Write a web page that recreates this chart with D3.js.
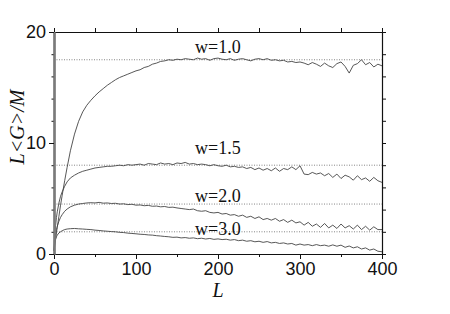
<!DOCTYPE html>
<html>
<head>
<meta charset="utf-8">
<script src="https://cdn.jsdelivr.net/npm/d3@7"></script>
<style>
  body { margin: 0; background: #fff; }
  svg { display: block; }
</style>
</head>
<body>
<div id="chart"></div>
<script>
// sampled lengths L shared by all four curves
const lengths = [0, 1, 2, 3, 4, 6, 8, 10, 13, 16, 20,
  25, 30, 35, 40, 45, 50, 55, 60, 65, 70, 75, 80, 85, 90, 95, 100,
  105, 110, 115, 120, 125, 130, 135, 140, 145, 150, 155, 160, 165, 170, 175, 180,
  185, 190, 195, 200, 205, 210, 215, 220, 225, 230, 235, 240, 245, 250, 255, 260,
  265, 270, 275, 280, 285, 290, 295, 300, 305, 310, 315, 320, 325, 330, 335, 340,
  345, 350, 355, 360, 365, 370, 375, 380, 385, 390, 395, 400];

const w10 = [0.3, 0.8, 1.35, 1.9, 2.4, 3.4, 4.4, 5.3, 6.6, 7.8, 9.3,
  10.8, 11.95, 12.8, 13.4, 13.85, 14.25, 14.6, 14.9, 15.2, 15.45, 15.7, 15.9, 16.05, 16.2, 16.35, 16.5,
  16.6, 16.8, 16.9, 17.1, 17.2, 17.35, 17.4, 17.5, 17.45, 17.55, 17.5, 17.6, 17.55, 17.5, 17.65, 17.55,
  17.6, 17.45, 17.6, 17.65, 17.55, 17.5, 17.6, 17.45, 17.55, 17.6, 17.5, 17.4, 17.55, 17.6, 17.5, 17.6,
  17.45, 17.5, 17.4, 17.45, 17.3, 17.35, 17.25, 17.3, 17.2, 17.05, 17.25, 17.1, 16.9, 17.2, 16.95, 16.8,
  17.15, 17.3, 16.9, 16.3, 17.0, 17.15, 17.5, 17.05, 17.25, 16.85, 17.1, 16.95];

const w15 = [0.3, 1.8, 2.6, 3.3, 3.8, 4.6, 5.2, 5.6, 6.1, 6.5, 6.85,
  7.1, 7.3, 7.45, 7.55, 7.65, 7.75, 7.8, 7.85, 7.9, 7.9, 7.95, 8.0, 7.95, 8.05, 8.0, 8.05,
  8.1, 8.0, 8.15, 8.1, 8.05, 8.2, 8.1, 8.15, 8.05, 8.2, 8.15, 8.25, 8.1, 8.15, 8.05, 8.1,
  8.05, 7.95, 8.05, 7.95, 7.9, 8.0, 7.85, 7.9, 7.8, 7.85, 7.7, 7.8, 7.6, 7.75, 7.55, 7.7,
  7.5, 7.75, 7.45, 7.7, 7.6, 7.85, 7.6, 7.95, 7.2, 7.15, 7.35, 7.2, 7.3, 7.05, 7.25, 6.9,
  7.2, 6.8, 7.1, 6.95, 6.65, 7.05, 6.7, 6.85, 6.55, 6.9, 6.6, 6.45];

const w20 = [0.3, 1.3, 1.8, 2.2, 2.5, 2.95, 3.3, 3.55, 3.85, 4.05, 4.25,
  4.4, 4.5, 4.55, 4.6, 4.62, 4.6, 4.65, 4.58, 4.6, 4.55, 4.57, 4.5, 4.52, 4.45, 4.48, 4.4,
  4.42, 4.35, 4.38, 4.3, 4.32, 4.25, 4.28, 4.2, 4.22, 4.15, 4.1, 4.05, 4.0, 4.05, 3.9, 3.85,
  3.9, 3.75, 3.7, 3.75, 3.6, 3.65, 3.5, 3.55, 3.4, 3.5, 3.3, 3.4, 3.2, 3.35, 3.1, 3.2,
  3.05, 3.2, 2.95, 3.1, 2.85, 3.05, 2.8, 2.9, 2.6, 2.85, 2.5, 2.7, 2.4, 2.75, 2.35, 2.6,
  2.3, 2.7, 2.35, 2.55, 2.25, 2.6, 2.2, 2.5, 2.15, 2.45, 2.2, 2.2];

const w30 = [0.3, 1.0, 1.35, 1.55, 1.7, 1.9, 2.0, 2.1, 2.2, 2.25, 2.28,
  2.3, 2.27, 2.25, 2.22, 2.2, 2.15, 2.12, 2.08, 2.05, 2.02, 2.0, 1.95, 1.93, 1.88, 1.85, 1.82,
  1.78, 1.76, 1.72, 1.7, 1.65, 1.62, 1.58, 1.55, 1.5, 1.52, 1.45, 1.48, 1.42, 1.45, 1.38, 1.42,
  1.35, 1.4, 1.32, 1.36, 1.3, 1.33, 1.25, 1.3, 1.2, 1.25, 1.15, 1.2, 1.1, 1.15, 1.05, 1.12,
  1.0, 1.05, 0.95, 1.0, 0.9, 0.95, 0.8, 0.9, 0.8, 0.85, 0.75, 0.85, 0.75, 0.8, 0.7, 0.82,
  0.7, 0.8, 0.6, 0.72, 0.55, 0.65, 0.45, 0.55, 0.35, 0.45, 0.25, 0.2];

const seriesNames = ["w=1.0", "w=1.5", "w=2.0", "w=3.0"];
const seriesValues = [w10, w15, w20, w30];
const plateaus = [17.5, 8.0, 4.5, 2.0];

const xMajor = [0, 100, 200, 300, 400];
const xMinor = [50, 150, 250, 350];
const yMajor = [0, 10, 20];

const width = 450, height = 314;
const margin = { top: 32, right: 68, bottom: 60, left: 54 };

const svg = d3.select("#chart")
  .append("svg")
  .attr("width", width)
  .attr("height", height);

const x = d3.scaleLinear().domain([0, 400]).range([margin.left, width - margin.right]);
const y = d3.scaleLinear().domain([0, 20]).range([height - margin.bottom, margin.top]);

const sans = "'Liberation Sans', Arial, Helvetica, sans-serif";
const serif = "'Liberation Serif', 'Times New Roman', Times, serif";

// dotted plateau guides
svg.append("g")
  .selectAll("line")
  .data(plateaus)
  .join("line")
  .attr("x1", x(0))
  .attr("x2", x(400))
  .attr("y1", d => y(d))
  .attr("y2", d => y(d))
  .attr("stroke", "#666")
  .attr("stroke-width", 0.8)
  .attr("stroke-dasharray", "1,1.5");

// curves (plain polyline keeps the jagged noise)
const line = d3.line()
  .x((d, i) => x(lengths[i]))
  .y(d => y(d));

svg.append("g")
  .selectAll("path")
  .data(seriesValues)
  .join("path")
  .attr("d", line)
  .attr("fill", "none")
  .attr("stroke", "#444")
  .attr("stroke-width", 0.9)
  .attr("stroke-linejoin", "round");

// series labels
const labelY = [53, 154, 202, 235];
svg.append("g")
  .selectAll("text")
  .data(seriesNames)
  .join("text")
  .attr("x", 195)
  .attr("y", (d, i) => labelY[i])
  .attr("font-family", serif)
  .attr("font-size", 18)
  .attr("fill", "#111")
  .text(d => d);

function styleAxis(g, color, w) {
  g.select(".domain").attr("stroke", color).attr("stroke-width", w);
  g.selectAll(".tick line").attr("stroke", "#111").attr("stroke-width", 1);
  g.selectAll(".tick text").attr("font-family", sans).attr("font-size", 18).attr("fill", "#111");
}

// top axis
svg.append("g")
  .attr("transform", `translate(0,${y(20)})`)
  .call(d3.axisTop(x).tickValues(d3.range(0, 401, 50)).tickSize(4).tickSizeOuter(0).tickFormat(""))
  .call(g => styleAxis(g, "#111", 1.2));

// right axis
svg.append("g")
  .attr("transform", `translate(${x(400)},0)`)
  .call(d3.axisRight(y).tickValues(d3.range(0, 21, 2)).tickSize(4).tickSizeOuter(0).tickFormat(""))
  .call(g => styleAxis(g, "#111", 1.2));

// bottom axis, minor then major
svg.append("g")
  .attr("transform", `translate(0,${y(0)})`)
  .call(d3.axisBottom(x).tickValues(xMinor).tickSize(3).tickSizeOuter(0).tickFormat(""))
  .call(g => styleAxis(g, "#111", 1.2));
svg.append("g")
  .attr("transform", `translate(0,${y(0)})`)
  .call(d3.axisBottom(x).tickValues(xMajor).tickSize(5).tickSizeOuter(0).tickPadding(3))
  .call(g => styleAxis(g, "#111", 1.2));

// left axis, minor then major
svg.append("g")
  .attr("transform", `translate(${x(0)},0)`)
  .call(d3.axisLeft(y).tickValues(d3.range(0, 21, 2)).tickSize(2.5).tickSizeOuter(0).tickFormat(""))
  .call(g => styleAxis(g, "#7a7a7a", 2.2));
svg.append("g")
  .attr("transform", `translate(${x(0)},0)`)
  .call(d3.axisLeft(y).tickValues(yMajor).tickSize(5).tickSizeOuter(0).tickPadding(3))
  .call(g => styleAxis(g, "#7a7a7a", 2.2));

// axis titles
svg.append("text")
  .attr("transform", `translate(24,127) rotate(-90)`)
  .attr("text-anchor", "middle")
  .attr("font-family", serif)
  .attr("font-style", "italic")
  .attr("font-size", 20)
  .attr("fill", "#111")
  .text("L<G>/M");

svg.append("text")
  .attr("x", 218)
  .attr("y", 297)
  .attr("text-anchor", "middle")
  .attr("font-family", serif)
  .attr("font-style", "italic")
  .attr("font-size", 20)
  .attr("fill", "#111")
  .text("L");
</script>
</body>
</html>
